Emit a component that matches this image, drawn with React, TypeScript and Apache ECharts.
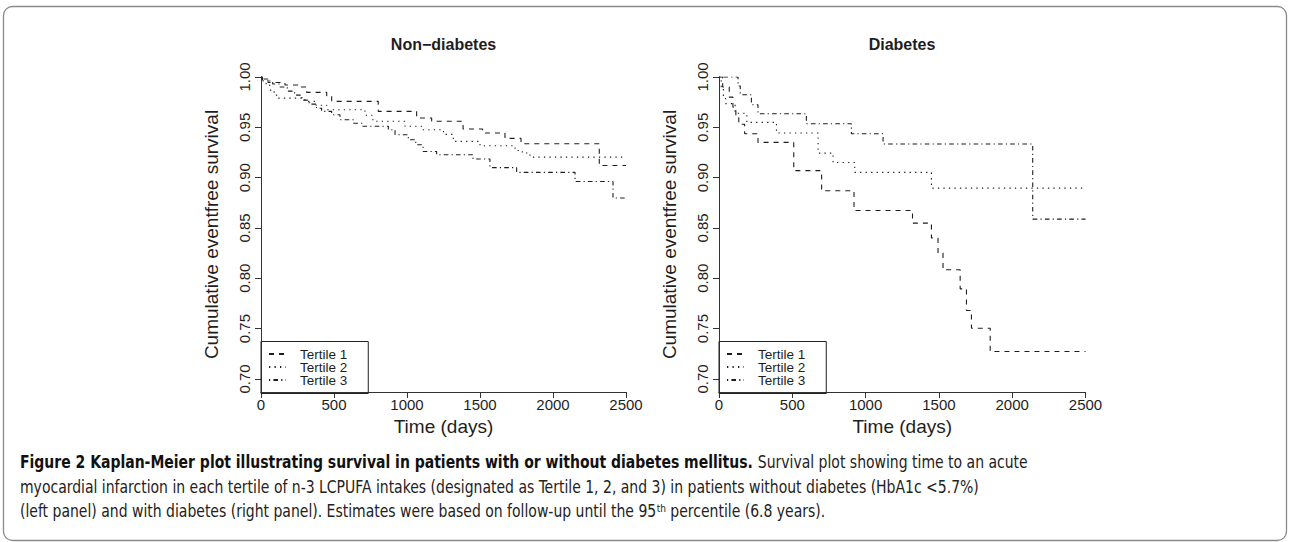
import React, { useEffect, useRef } from "react";
import * as echarts from "echarts";

// ---- data (days, cumulative event-free survival) ----
const DAY_TICKS = [0, 500, 1000, 1500, 2000, 2500];
const SURV_TICKS = [0.7, 0.75, 0.8, 0.85, 0.9, 0.95, 1.0];
const TERTILES = ["Tertile 1", "Tertile 2", "Tertile 3"];

const nonDiabT1: [number, number][] = [
  [0, 1], [10, 0.997], [48, 0.9946], [164, 0.992], [253, 0.99], [313, 0.9847], [450, 0.9814],
  [484, 0.9758], [803, 0.9658], [1066, 0.9592], [1169, 0.956], [1384, 0.9483], [1518, 0.9443],
  [1671, 0.939], [1781, 0.9337], [2317, 0.912], [2500, 0.912],
];
const nonDiabT2: [number, number][] = [
  [0, 1], [15, 0.996], [35, 0.992], [60, 0.987], [90, 0.982], [115, 0.979], [300, 0.9758],
  [377, 0.972], [450, 0.9675], [712, 0.962], [760, 0.9575], [790, 0.956], [986, 0.951],
  [1100, 0.9476], [1250, 0.943], [1317, 0.936], [1500, 0.9317], [1740, 0.927], [1790, 0.9245],
  [1842, 0.9204], [2500, 0.9204],
];
const nonDiabT3: [number, number][] = [
  [0, 1], [20, 0.998], [45, 0.996], [80, 0.993], [130, 0.99], [180, 0.986], [230, 0.982],
  [280, 0.977], [330, 0.973], [380, 0.969], [415, 0.9658], [484, 0.9625], [541, 0.9575],
  [632, 0.954], [690, 0.951], [872, 0.9476], [918, 0.9426], [1009, 0.9377], [1060, 0.9327],
  [1110, 0.926], [1203, 0.9227], [1452, 0.9185], [1568, 0.91], [1751, 0.9052], [2151, 0.8962],
  [2411, 0.8797], [2500, 0.8797],
];
const diabT1: [number, number][] = [
  [0, 1], [25, 0.99], [70, 0.98], [95, 0.97], [115, 0.962], [135, 0.953], [175, 0.9436],
  [266, 0.935], [510, 0.907], [700, 0.887], [921, 0.8674], [1320, 0.8548], [1449, 0.84],
  [1494, 0.825], [1528, 0.8084], [1645, 0.7895], [1688, 0.768], [1722, 0.7504], [1850, 0.7272],
  [2500, 0.7272],
];
const diabT2: [number, number][] = [
  [0, 1], [15, 0.99], [30, 0.98], [45, 0.9735], [110, 0.964], [190, 0.9549], [392, 0.9443],
  [676, 0.9244], [778, 0.9151], [926, 0.9052], [1449, 0.8896], [2500, 0.8896],
];
const diabT3: [number, number][] = [
  [0, 1], [130, 0.991], [145, 0.9824], [221, 0.9725], [266, 0.9635], [596, 0.9536],
  [903, 0.9436], [1119, 0.9334], [2140, 0.8588], [2500, 0.8588],
];

const PANEL_TITLES = ["Non\u2212diabetes", "Diabetes"];
const X_NAME = "Time (days)";
const Y_NAME = "Cumulative eventfree survival";

const CAPTION_1 =
  "{b|Figure 2 Kaplan-Meier plot illustrating survival in patients with or without diabetes mellitus.} Survival plot showing time to an acute";
const CAPTION_2 =
  "myocardial infarction in each tertile of n-3 LCPUFA intakes (designated as Tertile 1, 2, and 3) in patients without diabetes (HbA1c <5.7%)";
const CAPTION_3 =
  "(left panel) and with diabetes (right panel). Estimates were based on follow-up until the 95{sup|th} percentile (6.8 years).";

const FONT = "'Liberation Sans', Arial, Helvetica, sans-serif";
const CAP_FONT = "'DejaVu Sans Condensed', 'Liberation Sans Narrow', sans-serif";
const INK = "#1e1e1e";
const DASHES: number[][] = [
  [5, 5],
  [1.3, 4.2],
  [1.2, 3.2, 4.6, 3.2],
];

export default function App() {
  const ref = useRef<HTMLDivElement>(null);
  useEffect(() => {
    if (!ref.current) return;
    const chart = echarts.init(ref.current, undefined, { renderer: "svg" });

    const grids = [
      { left: 261, top: 77, width: 365, height: 315 },
      { left: 719, top: 77, width: 366.5, height: 315 },
    ];
    const centers = [443.5, 902];

    const xAxes = grids.map((_, i) => ({
      type: "value",
      gridIndex: i,
      min: 0,
      max: 2500,
      interval: 500,
      name: X_NAME,
      nameLocation: "middle",
      nameGap: 23,
      nameTextStyle: { fontSize: 19, color: INK, fontFamily: FONT },
      axisLine: { show: true, onZero: false, lineStyle: { color: "#333", width: 1 } },
      axisTick: { show: true, inside: false, length: 6, lineStyle: { color: "#333" } },
      axisLabel: {
        show: true,
        fontSize: 15,
        color: INK,
        fontFamily: FONT,
        margin: 5,
        customValues: DAY_TICKS,
        formatter: (v: number) => String(v),
      },
      splitLine: { show: false },
    }));
    const yAxes = grids.map((_, i) => ({
      type: "value",
      gridIndex: i,
      min: 0.687,
      max: 1.0,
      name: Y_NAME,
      nameLocation: "middle",
      nameRotate: 90,
      nameGap: 40,
      nameTextStyle: { fontSize: 19, color: INK, fontFamily: FONT },
      axisLine: { show: true, onZero: false, lineStyle: { color: "#333", width: 1 } },
      axisTick: {
        show: true,
        inside: false,
        length: 6,
        customValues: SURV_TICKS,
        lineStyle: { color: "#333" },
      },
      axisLabel: {
        show: true,
        rotate: 90,
        fontSize: 15,
        color: INK,
        fontFamily: FONT,
        margin: 9,
        customValues: SURV_TICKS,
        formatter: (v: number) => v.toFixed(2),
      },
      splitLine: { show: false },
    }));

    const panels = [
      [nonDiabT1, nonDiabT2, nonDiabT3],
      [diabT1, diabT2, diabT3],
    ];
    const series: any[] = [];
    panels.forEach((curves, p) => {
      curves.forEach((data, k) => {
        series.push({
          type: "line",
          name: TERTILES[k],
          xAxisIndex: p,
          yAxisIndex: p,
          step: "end",
          symbol: "none",
          showSymbol: false,
          data,
          itemStyle: { color: INK },
          lineStyle: { color: INK, width: 1.1, type: DASHES[k] },
          emphasis: { disabled: true },
        });
      });
    });

    const legends = grids.map((g) => ({
      left: g.left,
      top: 341.5,
      orient: "vertical",
      data: TERTILES,
      itemWidth: 17,
      itemHeight: 10,
      itemGap: -1,
      padding: [5.5, 21, 6.5, 7],
      borderColor: "#222",
      borderWidth: 1,
      selectedMode: false,
      itemStyle: { opacity: 0 },
      textStyle: {
        fontSize: 13.5,
        color: INK,
        fontFamily: FONT,
        lineHeight: 10,
        padding: [0, 0, 0, 9],
      },
    }));

    const titles = PANEL_TITLES.map((t, i) => ({
      text: t,
      left: centers[i],
      top: 36,
      textAlign: "center",
      padding: 0,
      textStyle: { fontSize: 16, fontWeight: "bold", color: INK, fontFamily: FONT },
    }));

    const capStyle = {
      fontSize: 17,
      fontFamily: CAP_FONT,
      fill: "#222",
      verticalAlign: "middle",
      textAlign: "left",
    };
    const CAP_SCALE = 0.915;

    chart.setOption({
      animation: false,
      backgroundColor: "#fff",
      title: titles,
      grid: grids,
      xAxis: xAxes,
      yAxis: yAxes,
      legend: legends,
      series,
      graphic: [
        {
          type: "rect",
          silent: true,
          shape: { x: 3.5, y: 6.5, width: 1283, height: 534, r: 9 },
          style: { fill: "none", stroke: "#8a8a8a", lineWidth: 1.3 },
        },
        {
          type: "text",
          x: 20,
          y: 462,
          scaleX: CAP_SCALE,
          style: {
            ...capStyle,
            text: CAPTION_1,
            rich: { b: { fontWeight: "bold", fontSize: 17, fontFamily: CAP_FONT, fill: "#111" } },
          },
        },
        { type: "text", x: 20, y: 487, scaleX: CAP_SCALE, style: { ...capStyle, text: CAPTION_2 } },
        {
          type: "text",
          x: 20,
          y: 511,
          scaleX: CAP_SCALE,
          style: {
            ...capStyle,
            text: CAPTION_3,
            rich: { sup: { fontSize: 11, fontFamily: CAP_FONT, verticalAlign: "top", fill: "#222" } },
          },
        },
      ],
    });
    return () => chart.dispose();
  }, []);

  return (
    <div
      ref={ref}
      style={{ position: "absolute", left: 0, top: 0, width: 1290, height: 542, background: "#fff" }}
    />
  );
}
